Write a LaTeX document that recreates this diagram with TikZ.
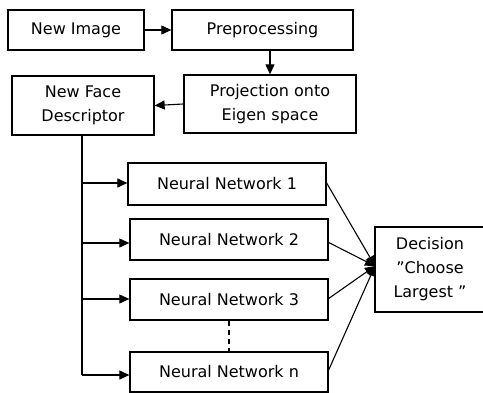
\documentclass[tikz,border=0pt]{standalone}
\usepackage{fontspec}
\setmainfont{DejaVu Sans}
\usetikzlibrary{arrows.meta}
\begin{document}
\begin{tikzpicture}[x=1pt,y=-1pt,
  box/.style={draw,line width=1.3pt,inner sep=0pt,font=\fontsize{16}{24}\selectfont,align=center},
  arr/.style={line width=1.1pt,-{Triangle[length=10pt,width=9pt]}},
  ln/.style={line width=1.1pt}]
\useasboundingbox (0,0) rectangle (483,392);
\node[box,minimum width=136pt,minimum height=40pt] (img) at (76,30) {New Image};
\node[box,minimum width=181pt,minimum height=40pt] (pre) at (262.5,30) {Preprocessing};
\node[box,minimum width=172pt,minimum height=58pt] (proj) at (270,104) {Projection onto\\Eigen space};
\node[box,minimum width=142pt,minimum height=59pt] (desc) at (83,105.5) {New Face\\Descriptor};
\node[box,minimum width=198pt,minimum height=42pt] (n1) at (227,184) {Neural Network 1};
\node[box,minimum width=198pt,minimum height=41pt] (n2) at (229,239.5) {Neural Network 2};
\node[box,minimum width=198pt,minimum height=41pt] (n3) at (229,299.5) {Neural Network 3};
\node[box,minimum width=198pt,minimum height=40pt] (nn) at (229,372) {Neural Network n};
\node[box,minimum width=110pt,minimum height=85pt] (dec) at (430,269.5) {Decision\\\char"201D Choose\\Largest \char"201D};
\draw[arr] (img) -- (pre);
\draw[arr] (pre.south -| proj.north) -- (proj.north);
\draw[arr] (proj.west) -- (desc.east);
\coordinate (top) at (82,135);
\coordinate (b1) at (82,183);
\coordinate (b2) at (82,243);
\coordinate (b3) at (82,299);
\coordinate (bn) at (82,375);
\draw[ln] (top) -- (bn);
\draw[arr] (b1) -- (b1 -| n1.west);
\draw[arr] (b2) -- (b2 -| n2.west);
\draw[arr] (b3) -- (b3 -| n3.west);
\draw[arr] (bn) -- (bn -| nn.west);
\draw[ln,dash pattern=on 5pt off 4pt] (n3.south) -- (nn.north);
\coordinate (t) at (375,266);
\draw[arr] (n1.east) ++(0,-1) -- (t);
\draw[arr] (n2.east) ++(0,3) -- (t);
\draw[arr] (n3.east) ++(0,-1) -- (t);
\draw[arr] (nn.east) ++(0,-2) -- (t);
\end{tikzpicture}
\end{document}
